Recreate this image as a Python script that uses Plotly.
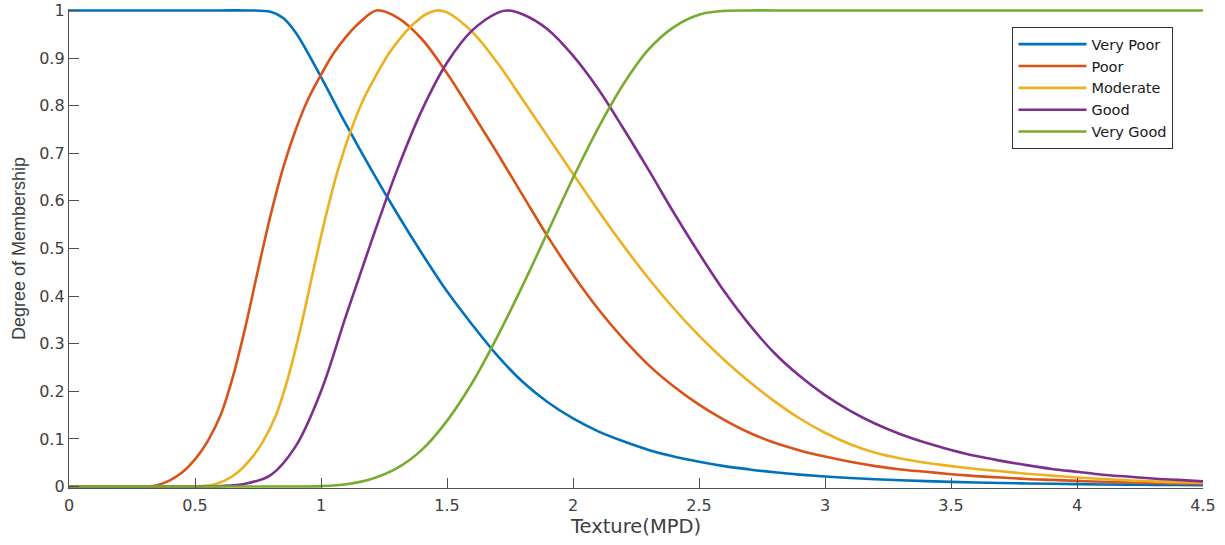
import plotly.graph_objects as go

# ---- data ----
x_very_poor = [0.0, 0.3, 0.6, 0.7, 0.8, 0.85, 0.9, 1.0, 1.1, 1.2, 1.3, 1.4, 1.5, 1.6, 1.7, 1.8, 1.9,
               2.0, 2.1, 2.2, 2.3, 2.4, 2.5, 2.6, 2.7, 2.8, 2.9,
               3.0, 3.1, 3.2, 3.3, 3.4, 3.5, 3.6, 3.7, 3.8, 3.9,
               4.0, 4.1, 4.2, 4.3, 4.4, 4.5]
very_poor = [1.0, 1.0, 1.0, 1.0, 0.997, 0.984, 0.953, 0.86, 0.76, 0.665, 0.575, 0.49, 0.41, 0.34, 0.275, 0.22, 0.177,
             0.143, 0.116, 0.095, 0.077, 0.063, 0.052, 0.043, 0.036, 0.03, 0.025,
             0.021, 0.018, 0.0155, 0.0133, 0.0115, 0.0099, 0.0086, 0.0075, 0.0066, 0.0058,
             0.0051, 0.0045, 0.004, 0.0036, 0.0032, 0.003]

x_poor = [0.0, 0.3, 0.35, 0.4, 0.45, 0.5, 0.55, 0.6, 0.65, 0.7, 0.75, 0.8, 0.85, 0.9,
          0.95, 1.0, 1.05, 1.1, 1.15, 1.22, 1.3, 1.4, 1.5, 1.6, 1.7, 1.8, 1.9,
          2.0, 2.1, 2.2, 2.3, 2.4, 2.5, 2.6, 2.7, 2.8, 2.9,
          3.0, 3.1, 3.2, 3.3, 3.4, 3.5, 3.6, 3.7, 3.8, 3.9,
          4.0, 4.1, 4.2, 4.3, 4.4, 4.5]
poor = [0.0, 0.0, 0.003, 0.013, 0.03, 0.057, 0.095, 0.148, 0.23, 0.335, 0.455, 0.57, 0.67, 0.75,
        0.815, 0.865, 0.91, 0.945, 0.973, 1.0, 0.986, 0.94, 0.868, 0.785, 0.7, 0.612, 0.525,
        0.445, 0.373, 0.31, 0.255, 0.21, 0.172, 0.14, 0.113, 0.092, 0.076,
        0.063, 0.052, 0.043, 0.036, 0.031, 0.026, 0.022, 0.019, 0.016, 0.014,
        0.012, 0.01, 0.009, 0.0075, 0.0063, 0.0053]

x_moderate = [0.0, 0.45, 0.52, 0.57, 0.62, 0.67, 0.72, 0.77, 0.82, 0.87, 0.92, 0.97,
              1.02, 1.07, 1.12, 1.17, 1.22, 1.27, 1.32, 1.37, 1.42, 1.46, 1.5,
              1.6, 1.7, 1.8, 1.9, 2.0, 2.1, 2.2, 2.3, 2.4, 2.5, 2.6, 2.7, 2.8, 2.9,
              3.0, 3.1, 3.2, 3.3, 3.4, 3.5, 3.6, 3.7, 3.8, 3.9,
              4.0, 4.1, 4.2, 4.3, 4.4, 4.5]
moderate = [0.0, 0.0, 0.001, 0.004, 0.013, 0.03, 0.057, 0.095, 0.148, 0.23, 0.335, 0.455,
            0.57, 0.67, 0.75, 0.815, 0.865, 0.91, 0.945, 0.973, 0.993, 1.0, 0.996,
            0.955, 0.89, 0.813, 0.735, 0.657, 0.58, 0.506, 0.437, 0.374, 0.317, 0.266, 0.22, 0.179, 0.143,
            0.113, 0.089, 0.071, 0.059, 0.05, 0.043, 0.037, 0.032, 0.027, 0.023,
            0.019, 0.016, 0.013, 0.011, 0.009, 0.008]

x_good = [0.0, 0.5, 0.6, 0.7, 0.8, 0.9, 1.0, 1.1, 1.2, 1.3, 1.4, 1.5, 1.6, 1.7, 1.737,
          1.8, 1.9, 2.0, 2.1, 2.2, 2.3, 2.4, 2.5, 2.6, 2.7, 2.8, 2.9,
          3.0, 3.1, 3.2, 3.3, 3.4, 3.5, 3.6, 3.7, 3.8, 3.9,
          4.0, 4.1, 4.2, 4.3, 4.4, 4.5]
good = [0.0, 0.0, 0.001, 0.006, 0.024, 0.085, 0.2, 0.36, 0.515, 0.662, 0.79, 0.89, 0.958, 0.995, 1.0,
        0.992, 0.96, 0.905, 0.835, 0.752, 0.665, 0.575, 0.49, 0.41, 0.34, 0.28, 0.232,
        0.192, 0.159, 0.132, 0.11, 0.092, 0.077, 0.064, 0.054, 0.045, 0.037,
        0.031, 0.025, 0.021, 0.017, 0.014, 0.011]

x_very_good = [0.0, 0.9, 1.0, 1.1, 1.2, 1.3, 1.4, 1.5, 1.6, 1.7, 1.8, 1.9,
               2.0, 2.1, 2.2, 2.3, 2.4, 2.5, 2.6, 2.7, 2.8, 3.0, 3.5, 4.0, 4.5]
very_good = [0.0, 0.0, 0.001, 0.005, 0.016, 0.038, 0.077, 0.138, 0.218, 0.315, 0.422, 0.535,
             0.648, 0.753, 0.845, 0.918, 0.965, 0.991, 0.999, 1.0, 1.0, 1.0, 1.0, 1.0, 1.0]

series_names = ["Very Poor", "Poor", "Moderate", "Good", "Very Good"]
series_x = [x_very_poor, x_poor, x_moderate, x_good, x_very_good]
series_values = [very_poor, poor, moderate, good, very_good]
series_colors = ["#0072BD", "#D95319", "#EDB120", "#7E2F8E", "#77AC30"]

x_tick_values = [0, 0.5, 1, 1.5, 2, 2.5, 3, 3.5, 4, 4.5]
x_tick_labels = ["0", "0.5", "1", "1.5", "2", "2.5", "3", "3.5", "4", "4.5"]
y_tick_values = [0, 0.1, 0.2, 0.3, 0.4, 0.5, 0.6, 0.7, 0.8, 0.9, 1]
y_tick_labels = ["0", "0.1", "0.2", "0.3", "0.4", "0.5", "0.6", "0.7", "0.8", "0.9", "1"]

# ---- figure ----
fig = go.Figure()
for name, xs, vals, col in zip(series_names, series_x, series_values, series_colors):
    fig.add_trace(go.Scatter(
        x=xs, y=vals, name=name, mode="lines",
        line=dict(color=col, width=2.6, shape="spline", smoothing=1.0),
    ))

axis_color = "#505050"
tick_font = dict(family="DejaVu Sans", size=16, color="#404040")

fig.update_layout(
    width=1225, height=545,
    margin=dict(l=69, r=22, t=9, b=57, pad=0, autoexpand=False),
    paper_bgcolor="white", plot_bgcolor="white",
    showlegend=True,
    legend=dict(
        x=0.832, y=0.962, xanchor="left", yanchor="top",
        bgcolor="white", bordercolor="#333333", borderwidth=1,
        font=dict(family="DejaVu Sans", size=14.5, color="#1a1a1a"),
        itemwidth=68, tracegroupgap=0,
    ),
    xaxis=dict(
        range=[0, 4.5], tickmode="array", automargin=False,
        tickvals=x_tick_values, ticktext=x_tick_labels,
        ticks="inside", ticklen=10, tickwidth=1.2, tickcolor=axis_color,
        showline=True, linecolor=axis_color, linewidth=1.4,
        showgrid=False, zeroline=False, mirror=False,
        tickfont=tick_font, ticklabelstandoff=3,
        title=dict(text="Texture(MPD)",
                   font=dict(family="DejaVu Sans", size=19.5, color="#404040"),
                   standoff=4),
    ),
    yaxis=dict(
        range=[-0.003, 1.003], tickmode="array", automargin=False,
        tickvals=y_tick_values, ticktext=y_tick_labels,
        ticks="inside", ticklen=10, tickwidth=1.2, tickcolor=axis_color,
        showline=True, linecolor=axis_color, linewidth=1.4,
        showgrid=False, zeroline=False, mirror=False,
        tickfont=tick_font, ticklabelstandoff=0,
        title=dict(text="Degree of Membership",
                   font=dict(family="Liberation Sans", size=18, color="#404040"),
                   standoff=8),
    ),
)

fig.write_html("out.html")
